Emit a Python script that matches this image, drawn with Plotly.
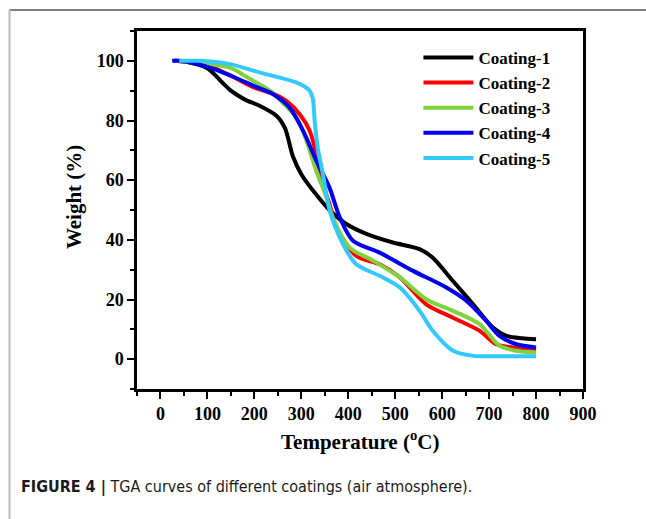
import plotly.graph_objects as go

# TGA data: temperature (°C) vs residual weight (%)
coating1_t = [30, 60, 100, 130, 150, 180, 210, 247, 265, 282, 300, 330, 360, 396, 440, 495, 552, 580, 623, 666, 708, 737, 770, 800]
coating1_w = [100, 99.5, 97.5, 93, 90, 87, 85, 81.6, 77.5, 68, 62, 55.5, 50, 45.3, 41.9, 39.1, 36.9, 34, 26.2, 18.4, 10.6, 7.8, 7, 6.7]

coating2_t = [30, 100, 150, 200, 240, 268, 297, 318, 332, 343, 360, 375, 417, 467, 510, 566, 623, 680, 715, 751, 800]
coating2_w = [100, 98.5, 95, 91, 89, 86.6, 82, 76.5, 68.7, 59.8, 52, 44.1, 34.6, 31.8, 27.4, 18.4, 13.9, 9.5, 5, 3.9, 3.1]

coating3_t = [30, 100, 148, 190, 233, 260, 290, 311, 332, 353, 367, 403, 453, 510, 566, 623, 680, 722, 758, 800]
coating3_w = [100, 99, 97.7, 94, 90, 86, 81, 73.2, 63, 54.5, 47.5, 37.4, 33, 27.4, 20.1, 16.2, 11.7, 4.5, 2.8, 2.2]

coating4_t = [25, 40, 100, 150, 200, 240, 275, 304, 332, 360, 382, 410, 467, 538, 609, 652, 694, 722, 758, 800]
coating4_w = [100, 100, 98, 95, 91.5, 88.8, 84.3, 76.5, 66.5, 57.5, 47.5, 39.7, 35.7, 29.6, 24, 19.5, 12.8, 7.8, 5, 3.9]

coating5_t = [40, 80, 148, 218, 290, 316, 324, 329, 336, 346, 360, 389, 417, 474, 510, 552, 580, 623, 666, 720, 800]
coating5_w = [100, 100, 98.9, 95.8, 92.7, 90.3, 87.7, 78.8, 69.8, 62, 50, 38.5, 31.8, 27.4, 24, 16.2, 9.5, 2.8, 1.1, 1, 1]

names = ["Coating-1", "Coating-2", "Coating-3", "Coating-4", "Coating-5"]
colors = ["#000000", "#ff0000", "#7ed33c", "#0000f0", "#33c8ff"]
series = [
    (coating1_t, coating1_w),
    (coating2_t, coating2_w),
    (coating3_t, coating3_w),
    (coating4_t, coating4_w),
    (coating5_t, coating5_w),
]

x_ticks = [0, 100, 200, 300, 400, 500, 600, 700, 800, 900]
y_ticks = [0, 20, 40, 60, 80, 100]

SERIF = "Liberation Serif, Times New Roman, serif"
CAPTION_FONT = "Liberation Sans Narrow, Arial Narrow, DejaVu Sans Condensed, sans-serif"

fig = go.Figure()
for name, color, (t, w) in zip(names, colors, series):
    fig.add_trace(go.Scatter(
        x=t, y=w, name=name, mode="lines",
        line=dict(color=color, width=4, shape="spline", smoothing=0.8),
    ))

axis_common = dict(
    showline=True, linecolor="black", linewidth=2.5, mirror=True,
    ticks="outside", ticklen=7, tickwidth=2, tickcolor="black",
    showgrid=False, zeroline=False,
    tickfont=dict(family=SERIF, size=18, color="black", weight="bold"),
)

fig.update_xaxes(
    range=[-50, 900], tickvals=x_ticks,
    minor=dict(dtick=50, tick0=0, ticks="outside", ticklen=4, tickwidth=2, tickcolor="black"),
    **axis_common,
)
fig.update_yaxes(
    range=[-10, 110], tickvals=y_ticks,
    minor=dict(dtick=10, tick0=0, ticks="outside", ticklen=4, tickwidth=2, tickcolor="black"),
    **axis_common,
)

annotations = [
    dict(text="Temperature (<sup>o</sup>C)", x=0.5, y=-0.1425, xref="paper", yref="paper",
         xanchor="center", yanchor="middle", showarrow=False,
         font=dict(family=SERIF, size=21, color="black", weight="bold")),
    dict(text="Weight (%)", x=-0.1413, y=0.536, xref="paper", yref="paper", textangle=-90,
         xanchor="center", yanchor="middle", showarrow=False,
         font=dict(family=SERIF, size=21, color="black", weight="bold")),
    dict(text="<b>FIGURE 4 |</b> TGA curves of different coatings (air atmosphere).",
         x=-0.2646, y=-0.2737, xref="paper", yref="paper",
         xanchor="left", yanchor="middle", showarrow=False,
         font=dict(family=CAPTION_FONT, size=16, color="#1a1a1a")),
]

shapes = [
    dict(type="line", xref="paper", yref="paper", x0=-0.2859, x1=1.15, y0=1.0587, y1=1.0587,
         line=dict(color="#555555", width=1.5)),
    dict(type="line", xref="paper", yref="paper", x0=-0.2859, x1=-0.2859, y0=1.0587, y1=-0.37,
         line=dict(color="#bbbbbb", width=2)),
]

fig.update_layout(
    width=646, height=519,
    margin=dict(l=137, r=63, t=31, b=130),
    paper_bgcolor="white", plot_bgcolor="white",
    showlegend=True,
    legend=dict(
        x=0.631, y=0.975, xanchor="left", yanchor="top",
        bgcolor="rgba(0,0,0,0)", borderwidth=0,
        font=dict(family=SERIF, size=17, color="black", weight="bold"),
        itemwidth=50, tracegroupgap=0,
    ),
    annotations=annotations,
    shapes=shapes,
)

fig.write_html("out.html")
